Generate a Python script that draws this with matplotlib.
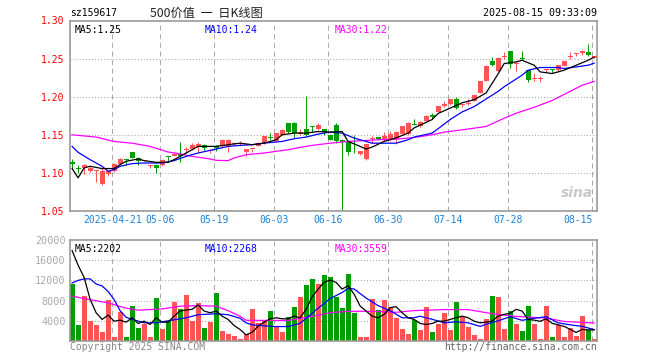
import matplotlib
matplotlib.use("Agg")
import matplotlib.pyplot as plt
import numpy as np

plt.rcParams['font.family'] = ['DejaVu Sans Mono', 'Noto Sans CJK SC']
plt.rcParams['lines.scale_dashes'] = False

# daily candles, day 1 .. 88 (2025-04-10 .. 2025-08-15)
opens = [1.114, 1.106, 1.106, 1.102, 1.103, 1.085, 1.098, 1.102, 1.112, 1.117,
         1.127, 1.1196, 1.1155, 1.1085, 1.111, 1.111, 1.122, 1.1226, 1.125, 1.130,
         1.132, 1.1335, 1.137, 1.129, 1.1357, 1.135, 1.1335, 1.138, 1.1375, 1.128,
         1.131, 1.1357, 1.139, 1.146, 1.1413, 1.150, 1.165, 1.166, 1.1513, 1.157,
         1.1602, 1.158, 1.1574, 1.150, 1.163, 1.1435, 1.1413, 1.1298, 1.1248, 1.1187,
         1.144, 1.147, 1.1435, 1.1443, 1.1443, 1.1517, 1.151, 1.164, 1.161, 1.1683,
         1.176, 1.180, 1.1878, 1.190, 1.1965, 1.1885, 1.191, 1.1943, 1.2052, 1.2204,
         1.247, 1.2335, 1.252, 1.260, 1.2433, 1.2502, 1.2348, 1.2237, 1.2237, 1.2346,
         1.235, 1.2348, 1.240, 1.252, 1.2555, 1.2578, 1.2587, 1.2513]
highs = [1.118, 1.111, 1.112, 1.109, 1.104, 1.106, 1.103, 1.113, 1.119, 1.118,
         1.128, 1.121, 1.117, 1.111, 1.112, 1.118, 1.1226, 1.126, 1.141, 1.1335,
         1.139, 1.140, 1.1375, 1.1317, 1.137, 1.144, 1.1443, 1.140, 1.1413, 1.1315,
         1.1318, 1.140, 1.149, 1.1522, 1.1525, 1.157, 1.1655, 1.1665, 1.1574, 1.2009,
         1.1617, 1.1652, 1.158, 1.151, 1.1652, 1.1443, 1.142, 1.150, 1.1285, 1.1385,
         1.1478, 1.1475, 1.1543, 1.1552, 1.155, 1.162, 1.167, 1.1713, 1.168, 1.1755,
         1.1783, 1.188, 1.1943, 1.197, 1.200, 1.190, 1.1965, 1.202, 1.2207, 1.2412,
         1.252, 1.252, 1.2587, 1.2605, 1.247, 1.2596, 1.235, 1.2313, 1.227, 1.237,
         1.237, 1.2415, 1.2472, 1.2587, 1.2578, 1.2617, 1.2687, 1.254]
lows = [1.107, 1.100, 1.098, 1.101, 1.088, 1.084, 1.0965, 1.101, 1.111, 1.111,
        1.119, 1.111, 1.115, 1.1065, 1.100, 1.109, 1.115, 1.122, 1.114, 1.126,
        1.1296, 1.1274, 1.1296, 1.1261, 1.1283, 1.134, 1.1274, 1.136, 1.1348, 1.1217,
        1.127, 1.135, 1.1385, 1.1435, 1.141, 1.1495, 1.153, 1.1457, 1.150, 1.1478,
        1.1543, 1.1565, 1.150, 1.143, 1.1391, 1.050, 1.123, 1.1261, 1.123, 1.1174,
        1.1391, 1.1426, 1.1413, 1.1422, 1.138, 1.151, 1.150, 1.1626, 1.160, 1.1675,
        1.1713, 1.1795, 1.187, 1.1895, 1.1843, 1.1865, 1.1891, 1.194, 1.2048, 1.220,
        1.240, 1.233, 1.250, 1.238, 1.2339, 1.2478, 1.2187, 1.2209, 1.2196, 1.2326,
        1.2317, 1.2326, 1.2398, 1.250, 1.253, 1.2543, 1.253, 1.2505]
closes = [1.112, 1.105, 1.110, 1.106, 1.1035, 1.103, 1.102, 1.112, 1.118, 1.1165,
          1.120, 1.1152, 1.116, 1.109, 1.1065, 1.117, 1.1215, 1.125, 1.122, 1.1305,
          1.137, 1.138, 1.1326, 1.1295, 1.1326, 1.1435, 1.1426, 1.1385, 1.138, 1.131,
          1.1315, 1.139, 1.1487, 1.1455, 1.152, 1.1565, 1.154, 1.152, 1.1543, 1.150,
          1.1598, 1.163, 1.1543, 1.1435, 1.1413, 1.140, 1.127, 1.1294, 1.1283, 1.1383,
          1.1445, 1.1443, 1.149, 1.151, 1.154, 1.161, 1.166, 1.1635, 1.167, 1.1748,
          1.1735, 1.1878, 1.191, 1.1965, 1.1857, 1.189, 1.1915, 1.2017, 1.2204, 1.2409,
          1.242, 1.2513, 1.2525, 1.2435, 1.2437, 1.2498, 1.2217, 1.2241, 1.2241, 1.235,
          1.2346, 1.2413, 1.247, 1.2524, 1.2559, 1.260, 1.2543, 1.2535]
volumes = [11200, 3100, 9000, 4000, 3200, 1800, 8200, 800, 5800, 800,
           7000, 2600, 3400, 800, 8600, 2400, 3900, 7800, 6300, 9200,
           4000, 7600, 2600, 3800, 9600, 2000, 1300, 1000, 400, 1300,
           6400, 3600, 4200, 6000, 3000, 1700, 4800, 6700, 8800, 11000,
           12200, 11200, 13000, 12600, 8800, 6600, 13200, 5600, 800, 800,
           8400, 6100, 8200, 6800, 4500, 2300, 1400, 4100, 2100, 6700,
           1700, 3300, 5500, 2200, 7700, 4800, 2700, 1100, 400, 4300,
           8900, 8700, 2300, 5900, 3300, 1900, 6900, 3400, 300, 6900,
           700, 3100, 700, 2600, 900, 4900, 2100, 300]

# moving averages (day number, value)
ma5_days = [1, 2, 3, 4, 6, 7, 8, 9, 10, 12, 13, 15, 17, 18, 20, 21, 22, 25, 27, 29,
            31, 33, 35, 36, 38, 40, 42, 44, 46, 47, 49, 50, 51, 53, 55, 57, 58, 61, 62, 64,
            66, 68, 70, 72, 73, 75, 76, 78, 79, 81, 83, 85, 87, 88]
ma5 = [1.1057, 1.0935, 1.1065, 1.1087, 1.1057, 1.1057, 1.1057, 1.1109, 1.1152, 1.1183,
       1.1161, 1.1139, 1.1139, 1.1174, 1.1261, 1.1304, 1.1348, 1.1348, 1.137, 1.139,
       1.137, 1.139, 1.1435, 1.150, 1.1522, 1.1522, 1.1543, 1.1535, 1.1543, 1.1413,
       1.1348, 1.1313, 1.1339, 1.1413, 1.146, 1.1522, 1.159, 1.170, 1.178, 1.185,
       1.192, 1.196, 1.205, 1.230, 1.2435, 1.2457, 1.2478, 1.2413, 1.2326, 1.2304,
       1.2348, 1.2413, 1.2478, 1.252]
ma10_days = [1, 2, 4, 6, 7, 8, 9, 11, 13, 16, 18, 20, 22, 25, 27, 29, 31, 33, 36, 38,
             40, 42, 44, 46, 48, 50, 51, 55, 57, 58, 61, 62, 64, 66, 68, 70, 72, 73, 76, 77,
             79, 82, 83, 85, 87, 88]
ma10 = [1.1348, 1.127, 1.1174, 1.1087, 1.1022, 1.1043, 1.1087, 1.1122, 1.113, 1.113,
        1.1161, 1.1217, 1.1261, 1.1313, 1.1348, 1.1361, 1.137, 1.1391, 1.1413, 1.1448,
        1.147, 1.1509, 1.1535, 1.1522, 1.1457, 1.1413, 1.139, 1.139, 1.1435, 1.147,
        1.1522, 1.158, 1.170, 1.180, 1.187, 1.197, 1.207, 1.213, 1.2283, 1.2348,
        1.2383, 1.2383, 1.237, 1.2391, 1.2413, 1.244]
ma30_days = [1, 5, 8, 11, 14, 17, 19, 21, 24, 25, 27, 28, 30, 33, 35, 37, 39, 41, 44, 47,
             50, 52, 55, 58, 61, 63, 66, 70, 73, 75, 78, 81, 83, 86, 88]
ma30 = [1.150, 1.147, 1.1413, 1.139, 1.1348, 1.1274, 1.125, 1.1217, 1.1183, 1.1165,
        1.1161, 1.1196, 1.1239, 1.1261, 1.1283, 1.1304, 1.1335, 1.1361, 1.139, 1.1413,
        1.1426, 1.1435, 1.1443, 1.1465, 1.150, 1.1535, 1.1565, 1.1609, 1.1717, 1.1783,
        1.1861, 1.195, 1.203, 1.215, 1.220]

vol_ma5 = [17900, 15000, 12600, 8270, 5600, 4270, 5130, 3930, 4130, 3730,
           4600, 3470, 3930, 3270, 4600, 3730, 3730, 4930, 5930, 6130,
           6270, 7130, 5930, 5600, 5930, 4930, 4270, 3070, 2270, 1200,
           1730, 2930, 3730, 4400, 4600, 4400, 4400, 4930, 4600, 6270,
           8730, 10270, 11600, 12070, 11600, 10270, 10930, 9270, 6930, 5930,
           4930, 4600, 5270, 6600, 6800, 5600, 4600, 4270, 3470, 3270,
           3470, 3930, 3930, 4270, 4600, 4930, 4600, 3930, 3600, 3730,
           3930, 4930, 5270, 5470, 6270, 5930, 4270, 4130, 3900, 4400,
           3500, 3200, 2900, 2300, 1700, 2300, 2200, 2202]
vol_ma10_days = [1, 2, 3, 4, 5, 6, 7, 8, 9, 10, 11, 13, 15, 17, 18, 20, 22, 25, 27, 29,
                 30, 31, 33, 35, 37, 39, 40, 41, 42, 43, 44, 46, 47, 48, 50, 52, 54, 56, 58, 59,
                 61, 63, 65, 67, 69, 70, 72, 74, 76, 78, 80, 82, 84, 86, 88]
vol_ma10 = [11500, 12000, 12300, 12300, 11300, 10900, 9800, 8200, 6000, 4700,
            4300, 3600, 3600, 4000, 4200, 4600, 5200, 5400, 5200, 4500,
            3600, 3200, 3000, 2860, 2860, 3500, 4500, 5500, 6500, 7400,
            8400, 9600, 10400, 10300, 8500, 7000, 6000, 4600, 4600, 4900,
            4300, 3600, 3800, 3600, 2900, 3300, 4000, 4800, 4100, 4500,
            4800, 3600, 3200, 2900, 2268]
vol_ma30_days = [1, 3, 7, 10, 12, 16, 19, 22, 25, 27, 29, 30, 34, 37, 41, 44, 47, 51, 55, 58,
                 63, 67, 71, 75, 80, 83, 88]
vol_ma30 = [8900, 8400, 7560, 6500, 6100, 6350, 6890, 7020, 6890, 6000,
            4900, 4100, 4070, 4070, 4870, 5600, 5880, 5880, 5680, 6020,
            6220, 6220, 5410, 4870, 4540, 3870, 3559]

date_days = [8, 16, 25, 35, 44, 54, 64, 74, 88]
date_labels = ['2025-04-21', '05-06', '05-19', '06-03', '06-16',
               '06-30', '07-14', '07-28', '08-15']
price_ticks = [1.05, 1.10, 1.15, 1.20, 1.25, 1.30]
vol_ticks = [4000, 8000, 12000, 16000, 20000]

RED = '#ff5454'
GREEN = '#009e00'
GRID = '#aaaaaa'
FRAME = '#999999'
px = 0.72  # one pixel in points

days = np.arange(1, len(closes) + 1)
o = np.array(opens)
c = np.array(closes)
up = c >= o
colors = [RED if u else GREEN for u in up]

fig = plt.figure(figsize=(6.6, 3.6), dpi=100)
W, H = 660.0, 360.0
ax = fig.add_axes([70 / W, 1 - 211 / H, 527 / W, 190.5 / H])
axv = fig.add_axes([70 / W, 1 - 341 / H, 527 / W, 101 / H])

xmin, xmax = 0.65, 88.48
line_x = [d - 0.3 for d in date_days]

for a in (ax, axv):
    a.set_xlim(xmin, xmax)
    for s in a.spines.values():
        s.set_color(FRAME)
        s.set_linewidth(1.2)
    for lx in line_x:
        a.axvline(lx, color=GRID, lw=px, ls=(0, (3.6, 2.6)), zorder=0)
    a.tick_params(length=0)

# price panel
ax.set_ylim(1.05, 1.30)
for p in price_ticks[1:-1]:
    ax.axhline(p, color=GRID, lw=px, ls=(0, (0.8, 1.4)), zorder=0)
ax.vlines(days, lows, highs, colors=colors, lw=px, zorder=2)
body_h = np.maximum(np.abs(c - o), 0.0013)
ax.bar(days, body_h, bottom=np.minimum(o, c), width=0.8, color=colors, lw=0, zorder=3)
ax.plot(ma30_days, ma30, color='#ff00ff', lw=0.9, zorder=4)
ax.plot(ma10_days, ma10, color='#0000ff', lw=0.9, zorder=4)
ax.plot(ma5_days, ma5, color='black', lw=0.9, zorder=5)

ax.set_yticks(price_ticks)
ax.set_yticklabels(['%.2f' % p for p in price_ticks], color='#ff0000', fontsize=7)
ax.tick_params(axis='y', pad=4)
ax.set_xticks(line_x)
ax.set_xticklabels(date_labels, color='#1a82d8', fontsize=7)
ax.tick_params(axis='x', pad=3)
ax.get_xticklabels()[-1].set_horizontalalignment('right')

ax.text(0.008, 0.975, 'MA5:%.2f' % ma5[-1], transform=ax.transAxes, fontsize=7,
        color='black', va='top', ha='left')
ax.text(0.256, 0.975, 'MA10:%.2f' % ma10[-1], transform=ax.transAxes, fontsize=7,
        color='#0000ff', va='top', ha='left')
ax.text(0.503, 0.975, 'MA30:%.2f' % ma30[-1], transform=ax.transAxes, fontsize=7,
        color='#ff00ff', va='top', ha='left')
ax.text(0.992, 0.06, 'sina', transform=ax.transAxes, fontsize=10, color='#c8c8c8',
        fontweight='bold', fontstyle='italic', ha='right', va='bottom',
        family='DejaVu Sans')

# volume panel
axv.set_ylim(0, 20000)
for v in vol_ticks[:-1]:
    axv.axhline(v, color=GRID, lw=px, ls=(0, (0.8, 1.4)), zorder=0)
axv.bar(days, volumes, width=0.84, color=colors, lw=0, zorder=2)
axv.plot(vol_ma30_days, vol_ma30, color='#ff00ff', lw=0.9, zorder=3)
axv.plot(vol_ma10_days, vol_ma10, color='#0000ff', lw=0.9, zorder=3)
axv.plot(days, vol_ma5, color='black', lw=0.9, zorder=4)
axv.set_yticks(vol_ticks)
axv.set_yticklabels([str(v) for v in vol_ticks], color='#aaaaaa', fontsize=7.3)
axv.tick_params(axis='y', pad=3)
axv.set_xticks([])

axv.text(0.008, 0.965, 'MA5:%d' % vol_ma5[-1], transform=axv.transAxes, fontsize=7,
         color='black', va='top', ha='left')
axv.text(0.256, 0.965, 'MA10:%d' % vol_ma10[-1], transform=axv.transAxes, fontsize=7,
         color='#0000ff', va='top', ha='left')
axv.text(0.503, 0.965, 'MA30:%d' % vol_ma30[-1], transform=axv.transAxes, fontsize=7,
         color='#ff00ff', va='top', ha='left')

# header and footer
fig.text(70 / W, 1 - 13 / H, 'sz159617', fontsize=7, va='center', ha='left')
fig.text(150 / W, 1 - 13 / H, '500价值  一  日K线图', fontsize=8.8, va='center', ha='left',
         family=['Noto Sans CJK SC', 'DejaVu Sans'], color='#222222')
fig.text(597 / W, 1 - 13 / H, '2025-08-15 09:33:09', fontsize=7.2, va='center', ha='right')
fig.text(70 / W, 1 - 347 / H, 'Copyright 2025 SINA.COM', fontsize=7, va='center',
         ha='left', color='#888888')
fig.text(597 / W, 1 - 347 / H, 'http://finance.sina.com.cn', fontsize=7, va='center',
         ha='right', color='#666666')

fig.savefig('out.png', dpi=100)
